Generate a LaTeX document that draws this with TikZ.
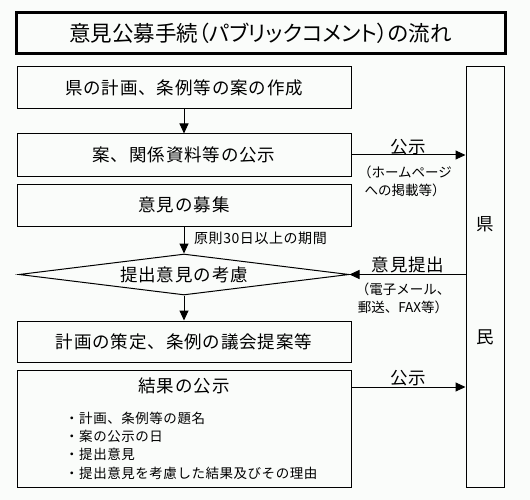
\documentclass[tikz,border=0pt]{standalone}
\usepackage{fontspec}
\setmainfont{Noto Sans CJK JP}
\newfontfamily\jpmain[LetterSpace=5]{Noto Sans CJK JP}
\newfontfamily\jpsmall{Noto Sans CJK JP}
\newfontfamily\jpmid[LetterSpace=4]{Noto Sans CJK JP}
\newfontfamily\jptitle[RawFeature=+palt]{Noto Sans CJK JP}
\usetikzlibrary{arrows.meta,shapes.geometric}
\definecolor{bgcol}{RGB}{250,252,250}
\begin{document}
\begin{tikzpicture}[x=1pt,y=-1pt,
  flowbox/.style={draw, line width=1pt, minimum width=334pt, minimum height=42pt, inner sep=0pt, font=\jpmain\fontsize{17.5}{19}\selectfont},
  titlebox/.style={draw, line width=3pt, minimum width=489pt, minimum height=41pt, inner sep=0pt, font=\jptitle\fontsize{21.5}{23}\selectfont},
  decide/.style={draw, diamond, aspect=8, line width=1pt, minimum width=330pt, minimum height=41pt, inner sep=0pt, font=\jpmain\fontsize{17.5}{19}\selectfont},
  bigtxt/.style={inner sep=0pt, font=\jpmain\fontsize{17.5}{19}\selectfont},
  smalltxt/.style={inner sep=0pt, align=center, font=\jpsmall\fontsize{13.5}{18}\selectfont},
  arr/.style={line width=1pt, -{Triangle[length=10pt,width=9pt]}}]
\fill[bgcol] (0,0) rectangle (530,500);
\useasboundingbox (0,0) rectangle (530,500);

\node[titlebox] (title) at (260.5,33.5) {意見公募手続（パブリックコメント）の流れ};

\node[flowbox] (b1) at (184,88) {県の計画、条例等の案の作成};
\node[flowbox] (b2) at (184,155) {案、関係資料等の公示};
\node[flowbox] (b3) at (184,205) {意見の募集};
\node[decide] (d) at (184,274.5) {提出意見の考慮};
\node[flowbox, minimum height=41pt] (b4) at (184,341.5) {計画の策定、条例の議会提案等};
\node[flowbox, minimum height=117pt] (b5) at (184,428.5) {};
\node[bigtxt] (b5t) at (184,386) {結果の公示};
\node[inner sep=0pt, anchor=west, align=left, font=\jpmid\fontsize{13.5}{18.3}\selectfont] (b5l) at (65,445.5)
  {・計画、条例等の題名\\・案の公示の日\\・提出意見\\・提出意見を考慮した結果及びその理由};

\node[draw, line width=1pt, minimum width=38pt, minimum height=420pt, inner sep=0pt] (kenmin) at (485,277) {};
\node[bigtxt] (ken) at (485,224) {県};
\node[bigtxt] (min) at (485,337) {民};

\coordinate (o5) at (351,387);

\draw[arr] (b1) -- (b2);
\draw[arr] (b2.east) -- (b2.east -| kenmin.west);
\draw[arr] (b3) -- (d);
\draw[arr] (kenmin.west |- d.east) -- (d.east);
\draw[arr] (d) -- (b4);
\draw[arr] (b5.east |- o5) -- (kenmin.west |- o5);

\node[bigtxt] (l1) at (408,147) {公示};
\node[smalltxt] (l1s) at (405,181) {（ホームページ\\への掲載等）};
\node[inner sep=0pt, anchor=west, font=\jpmid\fontsize{14}{15}\selectfont] (l2) at (194,238) {原則30日以上の期間};
\node[bigtxt] (l3) at (408,265) {意見提出};
\node[smalltxt] (l3s) at (403,298) {（電子メール、\\郵送、FAX等）};
\node[bigtxt] (l4) at (408,378) {公示};
\end{tikzpicture}
\end{document}
